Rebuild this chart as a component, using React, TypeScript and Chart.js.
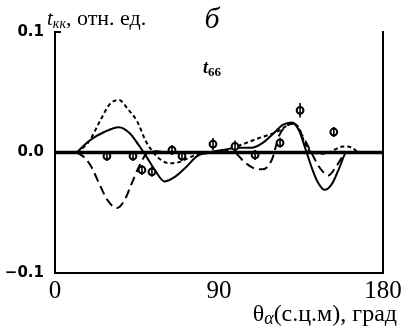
import React, { useEffect, useRef } from "react";
import { Chart, registerables } from "chart.js";

Chart.register(...registerables);

// ---- data ----
const xTicks = [0, 90, 180];
const yTicks = [-0.1, 0, 0.1];
const yTickLabels = ["\u22120.1", "0.0", "0.1"];

const solidAngles = [12, 19, 27, 35, 41, 46, 50, 55, 60, 66, 72, 78, 84, 92, 100, 108, 114, 120, 125, 130, 134, 137, 141, 144, 148, 152, 156, 160, 180];
const solidValues = [0, 0.01, 0.017, 0.021, 0.016, 0.006, -0.003, -0.015, -0.024, -0.02, -0.012, -0.003, 0, 0.002, 0.004, 0.004, 0.008, 0.016, 0.023, 0.025, 0.018, 0.005, -0.013, -0.024, -0.031, -0.026, -0.013, 0, 0];

const fineAngles = [12, 14, 19, 25, 30, 35, 40, 45, 50, 54, 58, 63, 68, 74, 80, 90, 98, 105, 112, 118, 124, 128, 131, 134, 137, 141, 148, 153, 158, 163, 167, 180];
const fineValues = [0, 0.002, 0.01, 0.027, 0.04, 0.0436, 0.036, 0.026, 0.009, 0, -0.006, -0.009, -0.008, -0.004, -0.001, 0, 0.004, 0.008, 0.012, 0.015, 0.019, 0.023, 0.024, 0.02, 0.008, 0, -0.001, 0.002, 0.005, 0.004, 0, 0];

const longAngles = [12, 16, 20, 24, 29, 34, 38, 42, 46, 51, 56, 62, 70, 80, 90, 98, 104, 109, 114, 119, 123, 127, 131, 135, 140, 145, 150, 155, 160, 180];
const longValues = [0, -0.004, -0.012, -0.025, -0.04, -0.046, -0.04, -0.026, -0.012, 0, 0.001, 0, 0, 0, 0, 0, -0.008, -0.013, -0.014, -0.006, 0.014, 0.022, 0.024, 0.016, 0.002, -0.012, -0.019, -0.01, 0, 0];

const markerAngles = [28.5, 42.8, 47.7, 53.2, 64.2, 69.7, 86.7, 98.8, 109.8, 123.5, 134.5, 153.0];
const markerValues = [-0.003, -0.003, -0.0145, -0.016, 0.002, -0.003, 0.007, 0.005, -0.002, 0.008, 0.035, 0.017];
const markerErrors = [0.002, 0.002, 0.002, 0.002, 0.003, 0.002, 0.005, 0.005, 0.004, 0.003, 0.006, 0.002];

const zeroAngles = [0, 180];
const zeroValues = [0, 0];

const pts = (xs: number[], ys: number[]) => xs.map((x, i) => ({ x, y: ys[i] }));

const SERIF = "'Liberation Serif', 'DejaVu Serif', serif";
const SANS = "'DejaVu Sans', 'Liberation Sans', sans-serif";

const errorBarPlugin = {
  id: "errorBars",
  afterDatasetsDraw(chart: any) {
    const idx = chart.data.datasets.findIndex((d: any) => d.label === "markers");
    if (idx < 0) return;
    const meta = chart.getDatasetMeta(idx);
    const ys = chart.scales.y;
    const ctx = chart.ctx;
    ctx.save();
    ctx.strokeStyle = "#000";
    ctx.lineWidth = 1.6;
    meta.data.forEach((el: any, i: number) => {
      const v = markerValues[i];
      const e = markerErrors[i];
      const y1 = ys.getPixelForValue(v + e);
      const y2 = ys.getPixelForValue(v - e);
      ctx.beginPath();
      ctx.moveTo(el.x, Math.min(y1, el.y - 5));
      ctx.lineTo(el.x, Math.max(y2, el.y + 5));
      ctx.stroke();
    });
    // small inward tick at the top of the left axis
    const a = chart.chartArea;
    ctx.lineWidth = 2;
    ctx.beginPath();
    ctx.moveTo(a.left, ys.getPixelForValue(0.1));
    ctx.lineTo(a.left + 6, ys.getPixelForValue(0.1));
    ctx.stroke();
    ctx.restore();
  },
};

const textPlugin = {
  id: "texts",
  afterDraw(chart: any) {
    const ctx = chart.ctx;
    const a = chart.chartArea;
    ctx.save();
    ctx.fillStyle = "#000";
    ctx.textBaseline = "alphabetic";
    ctx.textAlign = "left";
    // y-axis title
    let x = a.left - 8;
    const yb = a.top - 7;
    ctx.font = `italic 21px ${SERIF}`;
    ctx.fillText("t", x, yb);
    x += ctx.measureText("t").width;
    ctx.font = `italic 14px ${SERIF}`;
    ctx.fillText("кк", x, yb + 3);
    x += ctx.measureText("кк").width;
    ctx.font = `22px ${SERIF}`;
    ctx.fillText(", отн. ед.", x, yb);
    // panel letter
    ctx.font = `italic 30px ${SERIF}`;
    ctx.textAlign = "center";
    ctx.fillText("б", a.left + 157, a.top - 4);
    // series label
    ctx.textAlign = "left";
    let tx = a.left + 148;
    const tb = a.top + 41;
    ctx.font = `bold italic 18px ${SERIF}`;
    ctx.fillText("t", tx, tb);
    tx += ctx.measureText("t").width;
    ctx.font = `bold 13px ${SERIF}`;
    ctx.fillText("66", tx, tb + 3);
    // x-axis title, right aligned
    const parts = [
      { t: "θ", f: `24px ${SERIF}`, dy: 0 },
      { t: "α", f: `italic 18px ${SERIF}`, dy: 3 },
      { t: "(с.ц.м), град", f: `24px ${SERIF}`, dy: 0 },
    ];
    let total = 0;
    parts.forEach((p) => {
      ctx.font = p.f;
      total += ctx.measureText(p.t).width;
    });
    let px = chart.width - 5 - total;
    const pb = chart.height - 6;
    parts.forEach((p) => {
      ctx.font = p.f;
      ctx.fillText(p.t, px, pb + p.dy);
      px += ctx.measureText(p.t).width;
    });
    ctx.restore();
  },
};

export default function App() {
  const ref = useRef<HTMLCanvasElement | null>(null);
  useEffect(() => {
    if (!ref.current) return;
    const chart = new Chart(ref.current, {
      type: "line",
      data: {
        datasets: [
          {
            label: "zero",
            data: pts(zeroAngles, zeroValues),
            borderColor: "#000",
            borderWidth: 3.5,
            pointRadius: 0,
          },
          {
            label: "markers",
            data: pts(markerAngles, markerValues),
            showLine: false,
            pointRadius: 3.4,
            pointBorderWidth: 2,
            pointBorderColor: "#000",
            pointBackgroundColor: "#fff",
          },
          {
            label: "solid",
            data: pts(solidAngles, solidValues),
            borderColor: "#000",
            borderWidth: 2,
            pointRadius: 0,
            cubicInterpolationMode: "monotone",
          },
          {
            label: "fine",
            data: pts(fineAngles, fineValues),
            borderColor: "#000",
            borderWidth: 2,
            borderDash: [4, 3],
            pointRadius: 0,
            cubicInterpolationMode: "monotone",
          },
          {
            label: "long",
            data: pts(longAngles, longValues),
            borderColor: "#000",
            borderWidth: 2,
            borderDash: [9, 5],
            pointRadius: 0,
            cubicInterpolationMode: "monotone",
          },
        ],
      },
      options: {
        animation: false,
        responsive: false,
        layout: { padding: { top: 32, right: 0, left: 0, bottom: 0 } },
        plugins: { legend: { display: false }, tooltip: { enabled: false } },
        scales: {
          x: {
            type: "linear",
            min: 0,
            max: 180,
            afterBuildTicks: (s: any) => {
              s.ticks = xTicks.map((v) => ({ value: v }));
            },
            afterFit: (s: any) => {
              s.height = 54;
              s.paddingLeft = 0;
              s.paddingRight = 0;
            },
            grid: { display: false, drawTicks: false },
            border: { display: true, color: "#000", width: 2 },
            ticks: {
              padding: 3,
              maxRotation: 0,
              color: "#000",
              font: { family: SERIF, size: 25 },
              callback: (v: any) => String(v),
            },
          },
          y: {
            type: "linear",
            min: -0.1,
            max: 0.1,
            afterBuildTicks: (s: any) => {
              s.ticks = yTicks.map((v) => ({ value: v }));
            },
            afterFit: (s: any) => {
              s.width = 55;
              s.paddingTop = 0;
              s.paddingBottom = 0;
            },
            grid: { display: false, drawTicks: false },
            border: { display: true, color: "#000", width: 2 },
            ticks: {
              padding: 11,
              color: "#000",
              font: { family: SANS, size: 15, weight: "bold" },
              callback: (v: any) => yTickLabels[yTicks.indexOf(Number(v))] ?? "",
            },
          },
          y2: {
            type: "linear",
            position: "right",
            min: -0.1,
            max: 0.1,
            afterFit: (s: any) => {
              s.width = 19;
            },
            grid: { display: false, drawTicks: false },
            border: { display: true, color: "#000", width: 2 },
            ticks: { display: false },
          },
        },
      },
      plugins: [errorBarPlugin, textPlugin],
    } as any);
    return () => chart.destroy();
  }, []);
  return (
    <div style={{ position: "absolute", left: 0, top: 0, width: 402, height: 327, background: "#fff" }}>
      <canvas ref={ref} width={402} height={327} />
    </div>
  );
}
